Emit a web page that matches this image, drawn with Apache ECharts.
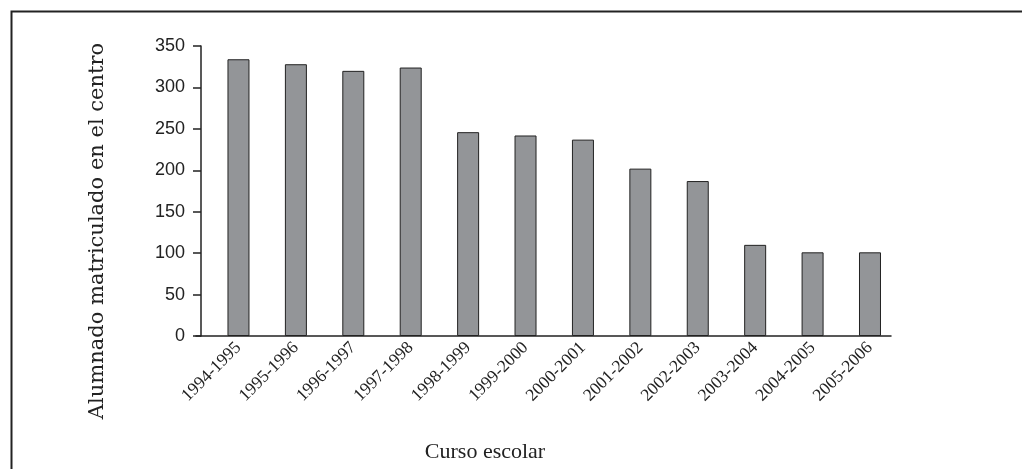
<!DOCTYPE html>
<html>
<head>
<meta charset="utf-8">
<script src="https://cdn.jsdelivr.net/npm/echarts@6/dist/echarts.min.js"></script>
<style>
html,body{margin:0;padding:0;background:#fff;}
#chart{width:1022px;height:469px;}
</style>
</head>
<body>
<div id="chart"></div>
<script>
const categories = ['1994-1995','1995-1996','1996-1997','1997-1998','1998-1999','1999-2000','2000-2001','2001-2002','2002-2003','2003-2004','2004-2005','2005-2006'];
const students = [334, 328, 320, 324, 246, 242, 237, 202, 187, 110, 101, 101];
const yTicks = [0, 50, 100, 150, 200, 250, 300, 350];
const yTitle = 'Alumnado matriculado en el centro';
const xTitle = 'Curso escolar';

const catIndex = categories.map((c, i) => i);
const chart = echarts.init(document.getElementById('chart'));
chart.setOption({
  animation: false,
  backgroundColor: '#fff',
  grid: { left: 196, top: 46, width: 695, height: 290, containLabel: false },
  xAxis: {
    type: 'value',
    min: -0.74,
    max: 11.366,
    axisLine: { show: true, onZero: false, lineStyle: { color: '#222', width: 1.5 } },
    axisTick: { show: false },
    axisLabel: {
      customValues: catIndex,
      formatter: v => categories[Math.round(v)] || '',
      rotate: 45, margin: 9, color: '#222',
      fontFamily: 'Liberation Serif', fontSize: 17.5
    },
    splitLine: { show: false }
  },
  yAxis: {
    type: 'value',
    min: 0, max: 350, interval: 50,
    offset: -5,
    axisLine: { show: true, onZero: false, lineStyle: { color: '#222', width: 1.5 } },
    axisTick: { show: true, length: 8, lineStyle: { color: '#222', width: 1.5 } },
    axisLabel: { color: '#222', fontFamily: 'Liberation Sans', fontSize: 18, margin: 16,
      formatter: v => yTicks.includes(v) ? String(v) : '' },
    splitLine: { show: false }
  },
  series: [{
    type: 'bar',
    data: students.map((v, i) => [i, v]),
    barWidth: 22,
    itemStyle: { color: '#939598', borderColor: '#222', borderWidth: 1 }
  }],
  graphic: [
    { type: 'rect', left: 9, top: 9, shape: { width: 1100, height: 600 },
      style: { fill: 'none', stroke: '#222', lineWidth: 2 }, silent: true },
    { type: 'text', x: 98, y: 231, rotation: Math.PI / 2,
      style: { text: yTitle, fill: '#222', font: '21px "DejaVu Serif"',
        textAlign: 'center', textVerticalAlign: 'middle' } },
    { type: 'text', x: 485, y: 452,
      style: { text: xTitle, fill: '#222', font: '22px "Liberation Serif"',
        textAlign: 'center', textVerticalAlign: 'middle' } }
  ]
});
</script>
</body>
</html>
